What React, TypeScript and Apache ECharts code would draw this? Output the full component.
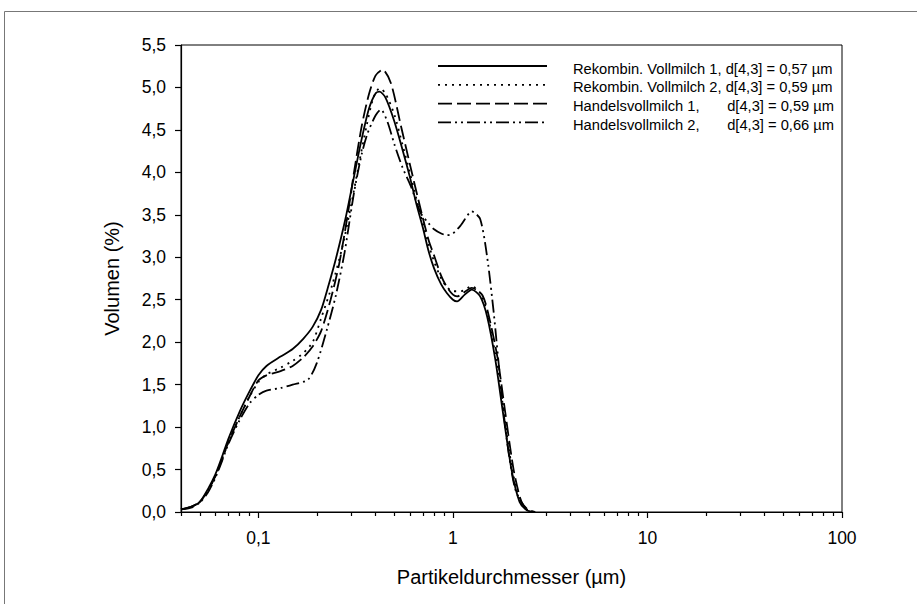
import React, { useEffect, useRef } from "react";
import * as echarts from "echarts";

// ---- data ----
const seriesNames = [
  "Rekombin. Vollmilch 1",
  "Rekombin. Vollmilch 2",
  "Handelsvollmilch 1",
  "Handelsvollmilch 2",
];
const d43Texts = ["d[4,3] = 0,57 µm", "d[4,3] = 0,59 µm", "d[4,3] = 0,59 µm", "d[4,3] = 0,66 µm"];

const xRek1 = [0.04, 0.045, 0.05, 0.055, 0.06, 0.065, 0.07, 0.08, 0.09, 0.1, 0.11, 0.13, 0.15, 0.17, 0.19, 0.21, 0.23, 0.25, 0.28, 0.31, 0.34, 0.37, 0.4, 0.42, 0.45, 0.5, 0.55, 0.6, 0.65, 0.7, 0.75, 0.8, 0.87, 0.93, 1.0, 1.05, 1.15, 1.25, 1.38, 1.5, 1.65, 1.8, 2.0, 2.2, 2.4, 2.6];
const yRek1 = [0.03, 0.06, 0.12, 0.27, 0.44, 0.65, 0.86, 1.18, 1.42, 1.61, 1.72, 1.83, 1.92, 2.04, 2.18, 2.38, 2.68, 2.98, 3.45, 3.95, 4.4, 4.75, 4.93, 4.95, 4.88, 4.6, 4.27, 3.95, 3.62, 3.35, 3.07, 2.87, 2.68, 2.58, 2.5, 2.48, 2.56, 2.62, 2.54, 2.3, 1.8, 1.2, 0.5, 0.12, 0.02, 0.0];

const xRek2 = [0.04, 0.045, 0.05, 0.055, 0.06, 0.065, 0.07, 0.08, 0.09, 0.1, 0.11, 0.13, 0.15, 0.17, 0.19, 0.21, 0.24, 0.27, 0.3, 0.33, 0.36, 0.39, 0.42, 0.45, 0.5, 0.55, 0.6, 0.65, 0.7, 0.75, 0.8, 0.87, 0.93, 1.0, 1.1, 1.25, 1.38, 1.5, 1.65, 1.8, 2.0, 2.2, 2.4, 2.6];
const yRek2 = [0.03, 0.06, 0.12, 0.25, 0.42, 0.62, 0.82, 1.12, 1.36, 1.53, 1.62, 1.7, 1.78, 1.87, 2.0, 2.28, 2.68, 3.12, 3.62, 4.12, 4.55, 4.88, 4.99, 4.93, 4.68, 4.33, 4.0, 3.68, 3.4, 3.15, 2.95, 2.75, 2.65, 2.6, 2.6, 2.66, 2.58, 2.35, 1.86, 1.28, 0.55, 0.14, 0.03, 0.0];

const xHan1 = [0.04, 0.045, 0.05, 0.055, 0.06, 0.065, 0.07, 0.08, 0.09, 0.1, 0.11, 0.13, 0.15, 0.17, 0.19, 0.21, 0.235, 0.26, 0.29, 0.31, 0.34, 0.37, 0.4, 0.435, 0.48, 0.54, 0.6, 0.68, 0.75, 0.8, 0.87, 0.93, 1.0, 1.05, 1.25, 1.42, 1.55, 1.7, 1.85, 2.05, 2.25, 2.45, 2.65];
const yHan1 = [0.03, 0.06, 0.12, 0.25, 0.42, 0.62, 0.82, 1.12, 1.36, 1.55, 1.61, 1.66, 1.72, 1.82, 1.95, 2.13, 2.5, 2.92, 3.55, 4.0, 4.55, 4.92, 5.14, 5.21, 5.05, 4.55, 4.1, 3.58, 3.2, 3.02, 2.78, 2.65, 2.56, 2.54, 2.64, 2.55, 2.25, 1.8, 1.2, 0.5, 0.12, 0.02, 0.0];

const xHan2 = [0.04, 0.045, 0.05, 0.055, 0.06, 0.065, 0.07, 0.08, 0.09, 0.1, 0.11, 0.13, 0.15, 0.18, 0.2, 0.225, 0.25, 0.277, 0.31, 0.34, 0.364, 0.4, 0.426, 0.46, 0.5, 0.55, 0.607, 0.683, 0.75, 0.8, 0.87, 0.93, 1.0, 1.1, 1.25, 1.38, 1.5, 1.62, 1.75, 1.89, 2.09, 2.39, 2.66];
const yHan2 = [0.03, 0.05, 0.11, 0.23, 0.4, 0.6, 0.8, 1.08, 1.28, 1.38, 1.43, 1.46, 1.5, 1.56, 1.76, 2.15, 2.55, 3.05, 3.76, 4.22, 4.46, 4.67, 4.74, 4.6, 4.33, 4.06, 3.84, 3.52, 3.4, 3.33, 3.28, 3.26, 3.28, 3.38, 3.54, 3.45, 3.0, 2.35, 1.56, 0.86, 0.27, 0.03, 0.0];

const majorTickValues = [0.1, 1, 10, 100];
const majorTickLabels = ["0,1", "1", "10", "100"];
const xMinValue = 0.04;
const xMaxValue = 100;
const yMax = 5.5;
const yStep = 0.5;

const FONT = "'Liberation Sans', Arial, Helvetica, sans-serif";
const dashPatterns: any[] = ["solid", [2, 5], [14, 5], [13, 4, 2, 4, 2, 4]];

export default function App() {
  const ref = useRef<HTMLDivElement>(null);
  useEffect(() => {
    if (!ref.current) return;
    const chart = echarts.init(ref.current, null, { renderer: "svg" });
    const lg = (v: number) => Math.log10(v);
    const xMin = lg(xMinValue);
    const xMax = lg(xMaxValue);
    const majorLog = majorTickValues.map(lg);
    const minorLog: number[] = [];
    for (let n = -2; n <= 1; n++) {
      for (let k = 1; k <= 9; k++) {
        const v = k * Math.pow(10, n);
        const l = lg(v);
        if (l >= xMin - 1e-9 && l <= xMax + 1e-9 && k !== 1) minorLog.push(l);
      }
    }
    const xs = [xRek1, xRek2, xHan1, xHan2];
    const ys = [yRek1, yRek2, yHan1, yHan2];
    const series = xs.map((xArr, i) => ({
      name: seriesNames[i],
      type: "line",
      xAxisIndex: 0,
      yAxisIndex: 0,
      data: xArr.map((x, j) => [lg(x), ys[i][j]]),
      showSymbol: false,
      symbol: "none",
      smooth: 0.25,
      lineStyle: { color: "#000", width: 1.8, type: dashPatterns[i] },
      silent: true,
    }));

    // legend graphics
    const legendGraphics: any[] = [];
    const lineX1 = 438;
    const lineX2 = 547;
    const textX = 573;
    const textRight = 834;
    const rowY0 = 66;
    const rowStep = 18.8;
    seriesNames.forEach((name, i) => {
      const y = rowY0 + i * rowStep;
      const dash = dashPatterns[i];
      legendGraphics.push({
        type: "line",
        shape: { x1: lineX1, y1: y, x2: lineX2, y2: y },
        style: { stroke: "#000", lineWidth: 1.8, lineDash: Array.isArray(dash) ? dash : null },
        silent: true,
      });
      if (i < 2) {
        legendGraphics.push({
          type: "text",
          x: textX,
          y: y + 2.5,
          style: { text: name + ", " + d43Texts[i], font: `14.7px ${FONT}`, fill: "#000", textVerticalAlign: "middle", verticalAlign: "middle" },
          silent: true,
        });
      } else {
        legendGraphics.push({
          type: "text",
          x: textX,
          y: y + 2.5,
          style: { text: name + ",", font: `14.7px ${FONT}`, fill: "#000", verticalAlign: "middle" },
          silent: true,
        });
        legendGraphics.push({
          type: "text",
          x: textRight,
          y: y + 2.5,
          style: { text: d43Texts[i], font: `14.7px ${FONT}`, fill: "#000", align: "right", verticalAlign: "middle" },
          silent: true,
        });
      }
    });

    const option: any = {
      animation: false,
      grid: {
        left: 181,
        right: 75,
        top: 45,
        bottom: 92,
        show: true,
        borderColor: "#000",
        borderWidth: 1,
        backgroundColor: "transparent",
      },
      xAxis: [
        {
          type: "value",
          min: xMin,
          max: xMax,
          position: "bottom",
          axisLine: { show: true, onZero: false, lineStyle: { color: "#000", width: 1.2 } },
          axisTick: { show: true, length: 6, customValues: majorLog, lineStyle: { color: "#000", width: 1.2 } },
          axisLabel: {
            customValues: majorLog,
            formatter: (v: number) => {
              const idx = majorLog.findIndex((m) => Math.abs(m - v) < 1e-6);
              return idx >= 0 ? majorTickLabels[idx] : "";
            },
            fontSize: 17.5,
            fontFamily: FONT,
            color: "#000",
            margin: 17,
          },
          splitLine: { show: false },
          name: "Partikeldurchmesser (µm)",
          nameLocation: "middle",
          nameGap: 55,
          nameTextStyle: { fontSize: 20, fontFamily: FONT, color: "#000" },
        },
        {
          type: "value",
          min: xMin,
          max: xMax,
          position: "bottom",
          gridIndex: 0,
          axisLine: { show: false, onZero: false },
          axisTick: { show: true, length: 4, customValues: minorLog, lineStyle: { color: "#000", width: 1.2 } },
          axisLabel: { show: false },
          splitLine: { show: false },
        },
      ],
      yAxis: {
        type: "value",
        min: 0,
        max: yMax,
        interval: yStep,
        axisLine: { show: true, onZero: false, lineStyle: { color: "#000", width: 1.2 } },
        axisTick: { show: true, length: 6, lineStyle: { color: "#000", width: 1.2 } },
        axisLabel: {
          formatter: (v: number) => v.toFixed(1).replace(".", ","),
          fontSize: 17.5,
          fontFamily: FONT,
          color: "#000",
          margin: 15,
        },
        splitLine: { show: false },
        name: "Volumen (%)",
        nameLocation: "middle",
        nameGap: 59,
        nameTextStyle: { fontSize: 20, fontFamily: FONT, color: "#000" },
      },
      series,
      graphic: [
        {
          type: "line",
          shape: { x1: 4.5, y1: 11.5, x2: 917, y2: 11.5 },
          style: { stroke: "#777", lineWidth: 1 },
          silent: true,
        },
        {
          type: "line",
          shape: { x1: 4.5, y1: 11.5, x2: 4.5, y2: 604 },
          style: { stroke: "#777", lineWidth: 1 },
          silent: true,
        },
        ...legendGraphics,
      ],
    };
    chart.setOption(option);
    return () => chart.dispose();
  }, []);
  return (
    <div
      ref={ref}
      style={{ position: "absolute", left: 0, top: 0, width: 917, height: 604, background: "#fff" }}
    />
  );
}
